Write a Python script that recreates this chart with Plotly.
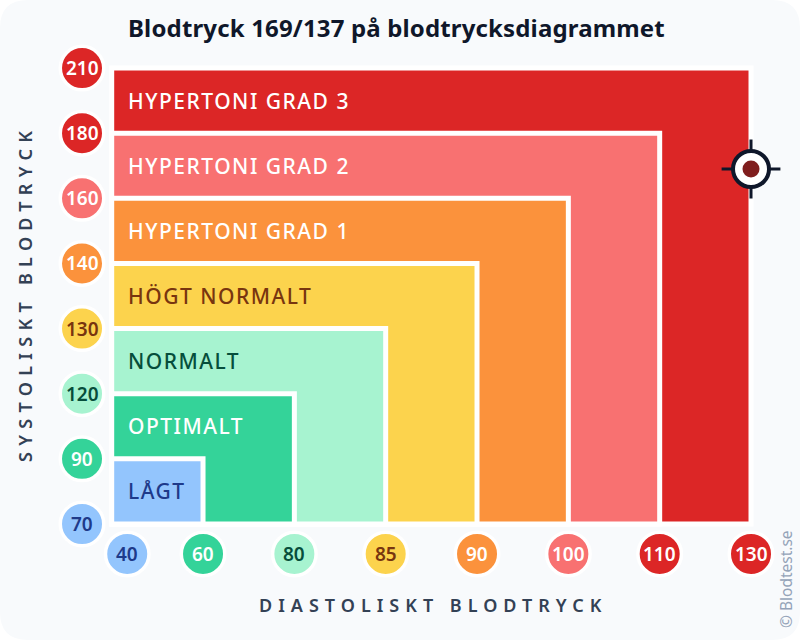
import numpy as np
import plotly.graph_objects as go

# Data
zones = ['LÅGT', 'OPTIMALT', 'NORMALT', 'HÖGT NORMALT', 'HYPERTONI GRAD 1', 'HYPERTONI GRAD 2', 'HYPERTONI GRAD 3']
zone_colors = ['#93c5fd', '#34d399', '#a7f3d0', '#fcd34d', '#fb923c', '#f87171', '#dc2626']
zone_text = ['#1e3a8a', '#ffffff', '#064e3b', '#78350f', '#ffffff', '#ffffff', '#ffffff']

systolic = [70, 90, 120, 130, 140, 160, 180, 210]
diastolic = [40, 60, 80, 85, 90, 100, 110, 130]
tick_colors = ['#93c5fd', '#34d399', '#a7f3d0', '#fcd34d', '#fb923c', '#f87171', '#dc2626', '#dc2626']
tick_text = ['#1e3a8a', '#ffffff', '#064e3b', '#78350f', '#ffffff', '#ffffff', '#ffffff', '#ffffff']

reading_sys = 169
reading_dia = 137

FONT = 'Noto Sans'
W, H = 800, 640

# Ordinal scale, one step per tick
index = np.arange(len(diastolic))
x_range = [-111.7 / 91.33, (W - 111.7) / 91.33]
y_range = [(524 - H) / 65.14, 524 / 65.14]

fig = go.Figure()

# Nested zones, biggest first
for k in range(len(zones), 0, -1):
    fig.add_trace(go.Bar(
        x=[0], y=[k], width=[k], offset=0,
        marker=dict(color=zone_colors[k - 1], line=dict(color='white', width=5)),
        hoverinfo='skip', showlegend=False,
    ))

# Tick badges
x_badges = index.astype(float)
x_badges[0] = 0.17  # 40 is pushed right so it clears the 70 badge
fig.add_trace(go.Scatter(
    x=x_badges, y=[-0.46] * len(diastolic), mode='markers',
    marker=dict(size=43.5, color=tick_colors, line=dict(color='white', width=3.5)),
    cliponaxis=False, showlegend=False,
))
fig.add_trace(go.Scatter(
    x=[-0.325] * len(systolic), y=index, mode='markers',
    marker=dict(size=43.5, color=tick_colors, line=dict(color='white', width=3.5)),
    cliponaxis=False, showlegend=False,
))
for i in index:
    fig.add_annotation(
        x=x_badges[i], y=-0.46, showarrow=False, text=str(diastolic[i]),
        xanchor='center', yanchor='middle',
        font=dict(family=FONT, size=19, color=tick_text[i], weight=600),
    )
    fig.add_annotation(
        x=-0.325, y=i, showarrow=False, text=str(systolic[i]),
        xanchor='center', yanchor='middle',
        font=dict(family=FONT, size=19, color=tick_text[i], weight=600),
    )

# Reading marker, clamped to the end of the scale
rx = np.interp(reading_dia, diastolic, index)
ry = np.interp(reading_sys, systolic, index)
fig.add_trace(go.Scatter(
    x=[rx], y=[ry], mode='markers',
    marker=dict(symbol='cross-thin', size=42, line=dict(color='#0f172a', width=3)),
    showlegend=False,
))
fig.add_trace(go.Scatter(
    x=[rx], y=[ry], mode='markers',
    marker=dict(size=36, color='white', line=dict(color='#0f172a', width=4)),
    showlegend=False,
))
fig.add_trace(go.Scatter(
    x=[rx], y=[ry], mode='markers',
    marker=dict(size=17, color='#7f1d1d'),
    showlegend=False,
))

for k, name in enumerate(zones):
    fig.add_annotation(
        x=0, y=k + 0.5, xshift=14, xanchor='left', yanchor='middle', showarrow=False,
        text='<span style="letter-spacing:1.5px">' + name + '</span>',
        font=dict(family=FONT, size=21, color=zone_text[k], weight=500),
    )

fig.add_annotation(
    x=396 / W, y=1 - 27 / H, xref='paper', yref='paper', showarrow=False,
    xanchor='center', yanchor='middle',
    text='<span style="letter-spacing:0.15px">Blodtryck 169/137 på blodtrycksdiagrammet</span>',
    font=dict(family=FONT, size=24, color='#0f172a', weight=700),
)
fig.add_annotation(
    x=433 / W, y=1 - 605 / H, xref='paper', yref='paper', showarrow=False,
    xanchor='center', yanchor='middle',
    text='<span style="letter-spacing:6px">DIASTOLISKT BLODTRYCK</span>',
    font=dict(family=FONT, size=18, color='#334155', weight=600),
)
fig.add_annotation(
    x=25 / W, y=1 - 294 / H, xref='paper', yref='paper', showarrow=False, textangle=-90,
    xanchor='center', yanchor='middle',
    text='<span style="letter-spacing:6.3px">SYSTOLISKT BLODTRYCK</span>',
    font=dict(family=FONT, size=18, color='#334155', weight=600),
)
fig.add_annotation(
    x=786 / W, y=1 - 579 / H, xref='paper', yref='paper', showarrow=False, textangle=-90,
    xanchor='center', yanchor='middle',
    text='© Blodtest.se',
    font=dict(family=FONT, size=15.5, color='#94a3b8'),
)

# Rounded card behind everything
rx_c, ry_c = 28 / W, 28 / H
card = (f'M {rx_c} 0 L {1 - rx_c} 0 Q 1 0 1 {ry_c} L 1 {1 - ry_c} Q 1 1 {1 - rx_c} 1 '
        f'L {rx_c} 1 Q 0 1 0 {1 - ry_c} L 0 {ry_c} Q 0 0 {rx_c} 0 Z')
fig.add_shape(type='path', path=card, xref='paper', yref='paper', layer='below',
              fillcolor='#f8fafc', line=dict(width=0))

fig.update_layout(
    width=W, height=H, margin=dict(l=0, r=0, t=0, b=0),
    barmode='overlay', showlegend=False,
    paper_bgcolor='white', plot_bgcolor='rgba(0,0,0,0)',
    xaxis=dict(range=x_range, visible=False, fixedrange=True),
    yaxis=dict(range=y_range, visible=False, fixedrange=True),
)

fig.write_html('out.html', config=dict(displayModeBar=False), post_script="document.body.style.margin='0';")
